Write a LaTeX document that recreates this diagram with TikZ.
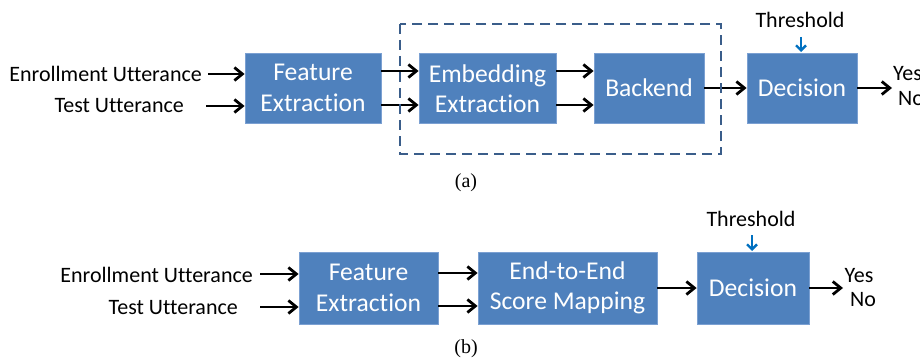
\documentclass[tikz,border=0pt]{standalone}
\usepackage{fontspec}
\setmainfont[Ligatures=NoCommon]{Carlito}
\newfontfamily\capfont{Liberation Serif}
\usetikzlibrary{arrows.meta}
\definecolor{boxblue}{HTML}{4F81BD}
\definecolor{boxedge}{HTML}{7BA0D2}
\definecolor{dashblue}{HTML}{3A5D8A}
\definecolor{thrblue}{HTML}{0070C0}
\tikzset{
  block/.style={draw=boxedge, line width=0.8pt, fill=boxblue, text=white,
    align=center, inner sep=0pt, minimum height=70pt,
    font=\fontsize{25.6}{30.5}\selectfont},
  lbl/.style={inner sep=0pt, font=\fontsize{22}{26}\selectfont},
  flow/.style={line width=2.8pt, -{Straight Barb[length=8pt,width=13pt,line width=2.8pt]}},
  thr/.style={thrblue, line width=2.4pt, -{Straight Barb[length=5pt,width=10pt,line width=2.4pt]}},
  sublabel/.style={inner sep=0pt, font=\capfont\fontsize{20}{24}\selectfont}
}
\begin{document}
\begin{tikzpicture}[x=1pt,y=-1pt]
\useasboundingbox (0,0) rectangle (920,361);

% ---------- (a) ----------
\node[block, minimum width=136pt] (fa) at (313,88) {Feature\\Extraction};
\node[block, minimum width=137pt] (ea) at (487.5,88.5) {Embedding\\Extraction};
\node[block, minimum width=110pt] (ba) at (649,88) {Backend};
\node[block, minimum width=110pt] (da) at (802,88) {Decision};

\node[lbl, anchor=east] (enra) at (202,74) {Enrollment Utterance};
\node[lbl, anchor=east] (testa) at (184,106) {Test Utterance};
\coordinate (enras) at (208,74);
\coordinate (testas) at (206,106);
\draw[flow] (enras) -- (enras -| fa.west);
\draw[flow] (testas) -- (testas -| fa.west);

\draw[flow] (fa.east |- 0,71) -- (ea.west |- 0,71);
\draw[flow] (fa.east |- 0,105) -- (ea.west |- 0,105);
\draw[flow] (ea.east |- 0,71) -- (ba.west |- 0,71);
\draw[flow] (ea.east |- 0,105) -- (ba.west |- 0,105);
\draw[flow] (ba.east) -- (da.west);

\node[lbl] (thra) at (800,20) {Threshold};
\draw[thr] (801,37) -- (801,52);

\coordinate (outa) at (892,88);
\draw[flow] (da.east) -- (outa);
\node[lbl, anchor=west] (yesa) at (893,74) {Yes};
\node[lbl, anchor=west] (noa) at (898,99) {No};

\draw[dashblue, line width=2.3pt, dash pattern=on 10pt off 6pt] (400,24) rectangle (721,154);

\node[sublabel] (capa) at (466,183) {(a)};

% ---------- (b) ----------
\node[block, minimum width=139pt, minimum height=72pt] (fb) at (368.5,288) {Feature\\Extraction};
\node[block, minimum width=179pt, minimum height=72pt] (eb) at (567.5,288) {End-to-End\\Score Mapping};
\node[block, minimum width=112pt, minimum height=72pt] (db) at (753,288) {Decision};

\node[lbl, anchor=east] (enrb) at (253,275) {Enrollment Utterance};
\node[lbl, anchor=east] (testb) at (238,308) {Test Utterance};
\coordinate (enrbs) at (260,274);
\coordinate (testbs) at (260,307);
\draw[flow] (enrbs) -- (enrbs -| fb.west);
\draw[flow] (testbs) -- (testbs -| fb.west);

\draw[flow] (fb.east |- 0,273) -- (eb.west |- 0,273);
\draw[flow] (fb.east |- 0,306) -- (eb.west |- 0,306);
\draw[flow] (eb.east) -- (db.west);

\node[lbl] (thrb) at (751,219) {Threshold};
\draw[thr] (752,235) -- (752,251);

\coordinate (outb) at (843,288);
\draw[flow] (db.east) -- (outb);
\node[lbl] (yesb) at (859,276) {Yes};
\node[lbl] (nob) at (863,300) {No};

\node[sublabel] (capb) at (466,349) {(b)};
\end{tikzpicture}
\end{document}
